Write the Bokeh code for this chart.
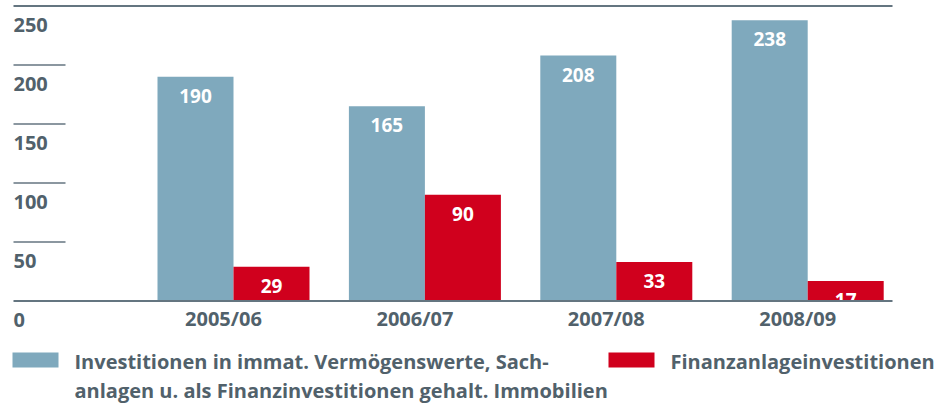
from bokeh.plotting import figure
from bokeh.models import ColumnDataSource, Range1d
from bokeh.core.properties import value
from bokeh.embed import file_html
from bokeh.resources import INLINE

# ---- data ----
categories = ["2005/06", "2006/07", "2007/08", "2008/09"]
invest_sach = [190, 165, 208, 238]
invest_finanz = [29, 90, 33, 17]
y_ticks = [0, 50, 100, 150, 200, 250]
y_tick_labels = ["0", "50", "100", "150", "200", "250"]
legend_labels = [
    "Investitionen in immat. Vermögenswerte, Sach-\nanlagen u. als Finanzinvestitionen gehalt. Immobilien",
    "Finanzanlageinvestitionen",
]

# ---- style ----
BLUE = "#7FA9BD"
RED = "#D0001D"
TXT = "#51616B"
LINE = "#647580"
FONT = value("Open Sans")

W, H = 940, 404
# pixel layout (frame covers the full canvas)
X0_PX, X_STEP_PX = 233.0, 191.4      # centre of first group, spacing
Y0_PX, Y250_PX = 300.5, 5.5          # pixel rows of value 0 and 250
y_scale = (Y0_PX - Y250_PX) / 250.0


def px_x(px):
    return (px - X0_PX) / X_STEP_PX


def px_y(py):
    return (Y0_PX - py) / y_scale


p = figure(width=W, height=H, output_backend="svg", toolbar_location=None,
           x_range=Range1d(px_x(0), px_x(W)), y_range=Range1d(px_y(H), px_y(0)),
           min_border=0, min_border_left=0, min_border_right=0,
           min_border_top=0, min_border_bottom=0)
p.axis.visible = False
p.grid.visible = False
p.outline_line_color = None
p.background_fill_color = "white"
p.border_fill_color = "white"

xs = list(range(len(categories)))
bar_w = 76 / X_STEP_PX
src = ColumnDataSource(dict(
    x=xs, cat=categories, zero=[0] * len(xs),
    a=invest_sach, b=invest_finanz,
    xa=[x - bar_w / 2 for x in xs], xb=[x + bar_w / 2 for x in xs],
    la=[str(v) for v in invest_sach], lb=[str(v) for v in invest_finanz],
))

p.vbar(x="xa", top="a", bottom=0, width=bar_w, source=src,
       fill_color=BLUE, line_color=None)
p.vbar(x="xb", top="b", bottom=0, width=bar_w, source=src,
       fill_color=RED, line_color=None)

# value labels inside bars
for col, ycol, lab in (("xa", "a", "la"), ("xb", "b", "lb")):
    p.text(x=col, y=ycol, text=lab, source=src,
           text_align="center", text_baseline="middle", y_offset=19,
           text_color="white", text_font=FONT, text_font_style="bold",
           text_font_size="19px")

# horizontal rules: full-width at 0 and 250, short ticks at the others
full = [t for t in y_ticks if t in (0, 250)]
short = [t for t in y_ticks if t not in (0, 250)]
p.segment(x0=[px_x(13)] * len(full), x1=[px_x(892)] * len(full),
          y0=full, y1=full, line_color=LINE, line_width=1.8)
p.segment(x0=[px_x(13)] * len(short), x1=[px_x(65)] * len(short),
          y0=short, y1=short, line_color=LINE, line_width=1.5)

# y tick labels (below their rule)
p.text(x=[px_x(13)] * len(y_ticks), y=y_ticks, text=y_tick_labels,
       text_align="left", text_baseline="middle", y_offset=18.5,
       text_color=TXT, text_font=FONT, text_font_style="bold",
       text_font_size="20px")

# category labels
p.text(x="x", y="zero", text="cat", source=src,
       text_align="center", text_baseline="middle", y_offset=17, x_offset=-10,
       text_color=TXT, text_font=FONT, text_font_style="bold",
       text_font_size="20px")

# legend
sw_w, sw_h = 46, 15
for i, (col, left_px, text_px) in enumerate(((BLUE, 12, 74), (RED, 608, 670))):
    p.quad(left=[px_x(left_px)], right=[px_x(left_px + sw_w)],
           top=[px_y(352)], bottom=[px_y(352 + sw_h)],
           fill_color=col, line_color=None)
    lines = legend_labels[i].split("\n")
    p.text(x=[px_x(text_px)] * len(lines),
           y=[px_y(360.5 + 29 * k) for k in range(len(lines))], text=lines,
           text_align="left", text_baseline="alphabetic",
           text_color=TXT, text_font=FONT, text_font_style="bold",
           text_font_size="20px")

open("out.html", "w").write(file_html(p, INLINE))
